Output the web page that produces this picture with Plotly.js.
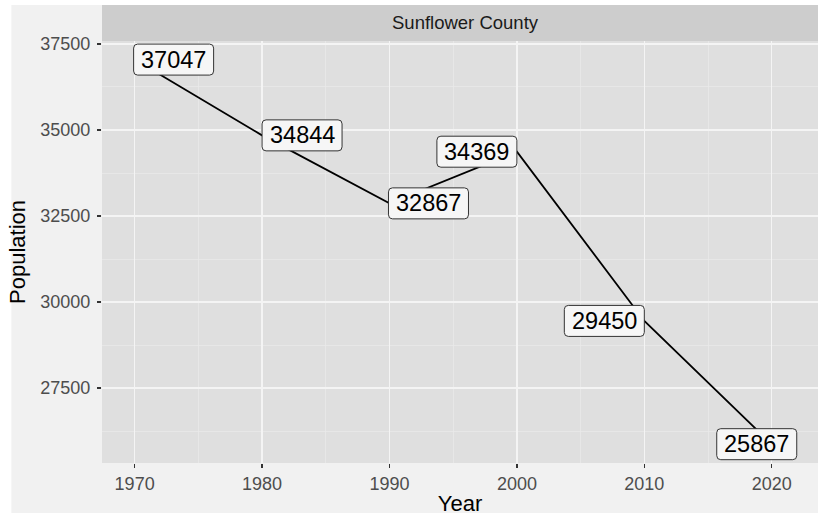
<!DOCTYPE html>
<html>
<head>
<meta charset="utf-8">
<script src="https://cdn.plot.ly/plotly-3.0.1.min.js"></script>
<style>html,body{margin:0;padding:0;background:#ffffff;overflow:hidden}#chart{width:818px;height:516px}</style>
</head>
<body>
<div id="chart"></div>
<script>
// ---- data ----
const facet = "Sunflower County";
const years = [1970, 1980, 1990, 2000, 2010, 2020];
const population = [37047, 34844, 32867, 34369, 29450, 25867];
const xTicks = [1970, 1980, 1990, 2000, 2010, 2020];
const yTicks = [27500, 30000, 32500, 35000, 37500];

// ---- presentation ----
const FONT = "Liberation Sans, Arial, Helvetica, sans-serif";
const labelShiftPx = [39, 40, 39, -40, -40, -15]; // ggrepel-like nudges
const BOX_W = 80, BOX_H = 31, R = 4;

function roundedRectPath(cx, w, h, r) {
  const l = cx - w / 2, rt = cx + w / 2, b = -h / 2, t = h / 2;
  return `M ${l + r},${b} L ${rt - r},${b} Q ${rt},${b} ${rt},${b + r} ` +
         `L ${rt},${t - r} Q ${rt},${t} ${rt - r},${t} L ${l + r},${t} ` +
         `Q ${l},${t} ${l},${t - r} L ${l},${b + r} Q ${l},${b} ${l + r},${b} Z`;
}

const trace = {
  x: years, y: population, type: "scatter", mode: "lines",
  line: {color: "#000000", width: 1.8}, hoverinfo: "x+y", showlegend: false
};

const labelBoxes = years.map((yr, i) => ({
  type: "path", xref: "x", yref: "y",
  xsizemode: "pixel", ysizemode: "pixel",
  xanchor: yr, yanchor: population[i],
  path: roundedRectPath(labelShiftPx[i], BOX_W, BOX_H, R),
  fillcolor: "#f6f6f6", line: {color: "#333333", width: 1}, layer: "above"
}));

const annotations = years.map((yr, i) => ({
  x: yr, y: population[i], xref: "x", yref: "y",
  text: String(population[i]), showarrow: false,
  xanchor: "center", yanchor: "middle", xshift: labelShiftPx[i],
  font: {family: FONT, size: 23.5, color: "#000000"}
}));

annotations.push({
  xref: "paper", yref: "paper", x: 0.507, y: 1.0427,
  text: facet, showarrow: false, xanchor: "center", yanchor: "middle",
  font: {family: FONT, size: 18.5, color: "#1a1a1a"}
});

const layout = {
  width: 818, height: 516,
  margin: {l: 102, r: 0, t: 41, b: 53, pad: 0},
  paper_bgcolor: "#ffffff", plot_bgcolor: "#dfdfdf",
  font: {family: FONT},
  showlegend: false,
  xaxis: {
    range: [1967.44, 2023.63], tickvals: xTicks, ticktext: xTicks.map(String),
    ticks: "outside", ticklen: 4, tickwidth: 1.2, tickcolor: "#333333",
    tickfont: {family: FONT, size: 18, color: "#4d4d4d"},
    showgrid: true, gridcolor: "#f4f4f4", gridwidth: 1.3,
    minor: {dtick: 5, tick0: 1965, showgrid: true, gridcolor: "#eaeaea", gridwidth: 0.7},
    zeroline: false, showline: false,
    title: {text: "Year", font: {family: FONT, size: 22, color: "#000000"}, standoff: 6}
  },
  yaxis: {
    range: [25320, 37587], tickvals: yTicks, ticktext: yTicks.map(String),
    ticks: "outside", ticklen: 4, tickwidth: 1.2, tickcolor: "#333333",
    tickfont: {family: FONT, size: 18, color: "#4d4d4d"},
    ticklabelstandoff: 3,
    showgrid: true, gridcolor: "#f4f4f4", gridwidth: 1.3,
    minor: {dtick: 1250, tick0: 0, showgrid: true, gridcolor: "#eaeaea", gridwidth: 0.7},
    zeroline: false, showline: false,
    title: {text: "Population", font: {family: FONT, size: 22, color: "#000000"}, standoff: 8}
  },
  shapes: [
    {type: "rect", xref: "paper", yref: "paper", x0: -0.1266, x1: 1.01, y0: -0.1185, y1: 1.0853,
     fillcolor: "#f1f1f1", line: {width: 0}, layer: "below"},
    {type: "rect", xref: "paper", yref: "paper", x0: 0, x1: 1, y0: 0, y1: 1,
     fillcolor: "#dfdfdf", line: {width: 0}, layer: "below"},
    {type: "rect", xref: "paper", yref: "paper", x0: 0, x1: 1.01, y0: 1.0, y1: 1.0853,
     fillcolor: "#cdcdcd", line: {width: 0}, layer: "below"}
  ].concat(labelBoxes),
  annotations: annotations
};

Plotly.newPlot("chart", [trace], layout, {displayModeBar: false, staticPlot: true});
</script>
</body>
</html>
